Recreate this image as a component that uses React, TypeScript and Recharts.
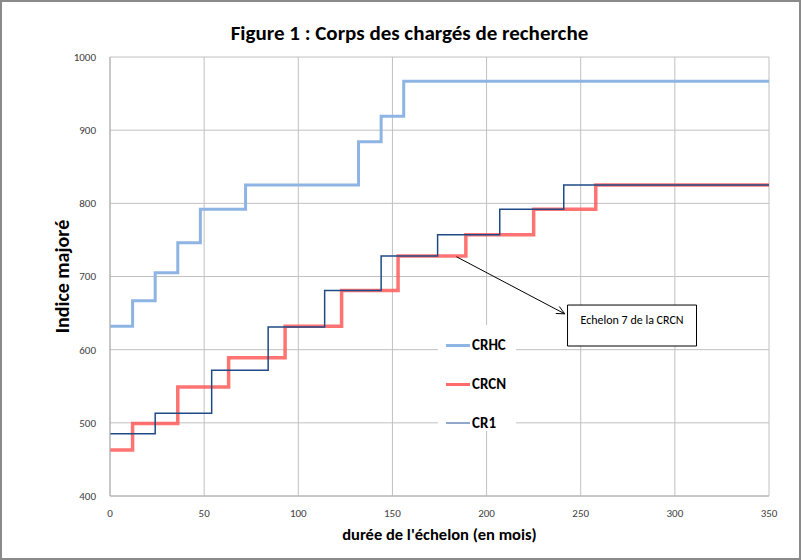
import {
  LineChart,
  Line,
  XAxis,
  YAxis,
  CartesianGrid,
  ReferenceLine,
  ReferenceArea,
} from "recharts";

// months at which each step starts, and the index reached
const crhcMonths = [0, 12, 24, 36, 48, 72, 132, 144, 156, 350];
const crhcIndex = [632, 667, 705, 746, 792, 825, 884, 919, 967, 967];

const crcnMonths = [0, 12, 36, 63, 93, 123, 153, 189, 225, 258, 350];
const crcnIndex = [463, 499, 549, 589, 632, 681, 728, 757, 792, 825, 825];

const cr1Months = [0, 24, 54, 84, 114, 144, 174, 207, 241, 350];
const cr1Index = [485, 513, 572, 631, 681, 728, 757, 792, 825, 825];

const xTicks = [0, 50, 100, 150, 200, 250, 300, 350];
const yTicks = [400, 500, 600, 700, 800, 900, 1000];

// annotation: arrow from the CRCN 7th step to the text box
const arrowFrom = { x: 184, y: 727 };
const arrowTo = { x: 241.5, y: 649 };
const noteBox = { x1: 243, x2: 311.5, y1: 605, y2: 661 };

const toPoints = (months: number[], values: number[]) =>
  months.map((m, i) => ({ m, v: values[i] }));

const crhc = toPoints(crhcMonths, crhcIndex);
const crcn = toPoints(crcnMonths, crcnIndex);
const cr1 = toPoints(cr1Months, cr1Index);

const FONT = "Carlito, 'Liberation Sans Narrow', 'Liberation Sans', Arial, sans-serif";

const legendItems = [
  { name: "CRHC", color: "#8eb4e3", width: 3 },
  { name: "CRCN", color: "#ff6b6b", width: 3 },
  { name: "CR1", color: "#8fa8cc", width: 1.5 },
];

function Arrow(props: any) {
  const { x1, y1, x2, y2 } = props;
  const a = Math.atan2(y2 - y1, x2 - x1);
  const len = 9;
  const spread = 0.45;
  const p1 = [x2 - len * Math.cos(a - spread), y2 - len * Math.sin(a - spread)];
  const p2 = [x2 - len * Math.cos(a + spread), y2 - len * Math.sin(a + spread)];
  return (
    <g stroke="#000" strokeWidth={1} fill="none">
      <line x1={x1} y1={y1} x2={x2} y2={y2} />
      <polyline points={`${p1[0]},${p1[1]} ${x2},${y2} ${p2[0]},${p2[1]}`} />
    </g>
  );
}

export default function App() {
  return (
    <div
      style={{
        position: "relative",
        width: 801,
        height: 560,
        boxSizing: "border-box",
        border: "2px solid #8a8a8a",
        background: "#fff",
        fontFamily: FONT,
      }}
    >
      <style>{`body{margin:0}`}</style>
      <div
        style={{
          position: "absolute",
          top: 18,
          left: 0,
          width: 815,
          textAlign: "center",
          fontSize: 21,
          fontWeight: "bold",
          color: "#000",
        }}
      >
        Figure 1 : Corps des chargés de recherche
      </div>
      <div style={{ position: "absolute", left: -2, top: -2 }}>
        <LineChart
          width={801}
          height={560}
          margin={{ top: 57, right: 32, bottom: 34, left: 0 }}
        >
          <CartesianGrid stroke="#c0c0c0" strokeWidth={1} />
          <XAxis
            dataKey="m"
            type="number"
            domain={[0, 350]}
            ticks={xTicks}
            height={30}
            tickLine={false}
            axisLine={{ stroke: "#b0b0b0" }}
            tickSize={6}
            tickMargin={7}
            tick={{ fill: "#404040", fontSize: 11, fontFamily: FONT }}
            label={{
              content: (p: any) => (
                <text
                  x={p.viewBox.x + p.viewBox.width / 2}
                  y={p.viewBox.y + 44}
                  textAnchor="middle"
                  fontSize={16.5}
                  fontWeight="bold"
                  fontFamily={FONT}
                  fill="#000"
                >
                  durée de l'échelon (en mois)
                </text>
              ),
            }}
          />
          <YAxis
            type="number"
            domain={[400, 1000]}
            ticks={yTicks}
            width={110}
            tickLine={false}
            axisLine={{ stroke: "#b0b0b0" }}
            tickSize={6}
            tickMargin={8}
            tick={{ fill: "#404040", fontSize: 11, fontFamily: FONT }}
            label={{
              content: (p: any) => {
                const cx = 69;
                const cy = p.viewBox.y + p.viewBox.height / 2;
                return (
                  <text
                    x={cx}
                    y={cy}
                    transform={`rotate(-90 ${cx} ${cy})`}
                    textAnchor="middle"
                    fontSize={20}
                    fontWeight="bold"
                    fontFamily={FONT}
                    fill="#000"
                  >
                    Indice majoré
                  </text>
                );
              },
            }}
          />
          <Line
            data={crhc}
            dataKey="v"
            type="stepAfter"
            stroke="#8eb4e3"
            strokeWidth={3}
            dot={false}
            isAnimationActive={false}
          />
          <Line
            data={crcn}
            dataKey="v"
            type="stepAfter"
            stroke="#ff5a5a"
            strokeOpacity={0.85}
            strokeWidth={3.5}
            dot={false}
            isAnimationActive={false}
          />
          <Line
            data={cr1}
            dataKey="v"
            type="stepAfter"
            stroke="#1f4a85"
            strokeWidth={1.5}
            dot={false}
            isAnimationActive={false}
          />
          <ReferenceLine
            segment={[arrowFrom, arrowTo]}
            shape={(p: any) => <Arrow {...p} />}
          />
          <ReferenceArea
            x1={noteBox.x1}
            x2={noteBox.x2}
            y1={noteBox.y1}
            y2={noteBox.y2}
            fill="#fff"
            fillOpacity={1}
            stroke="#000"
            strokeWidth={1}
            label={{
              value: "Echelon 7 de la CRCN",
              position: "insideTop",
              offset: 10,
              fontSize: 12,
              fontFamily: FONT,
              fill: "#000",
            }}
          />
        </LineChart>
      </div>
      <div
        style={{
          position: "absolute",
          left: 436,
          top: 323,
          width: 78,
          height: 106,
          background: "#fff",
        }}
      >
        {legendItems.map((it, i) => (
          <div
            key={it.name}
            style={{
              position: "absolute",
              left: 8,
              top: 10 + i * 39,
              display: "flex",
              alignItems: "center",
              height: 20,
            }}
          >
            <span
              style={{
                display: "inline-block",
                width: 24,
                height: it.width,
                background: it.color,
                marginRight: 2,
              }}
            />
            <span style={{ fontSize: 15, fontWeight: "bold", color: "#000" }}>
              {it.name}
            </span>
          </div>
        ))}
      </div>
    </div>
  );
}
